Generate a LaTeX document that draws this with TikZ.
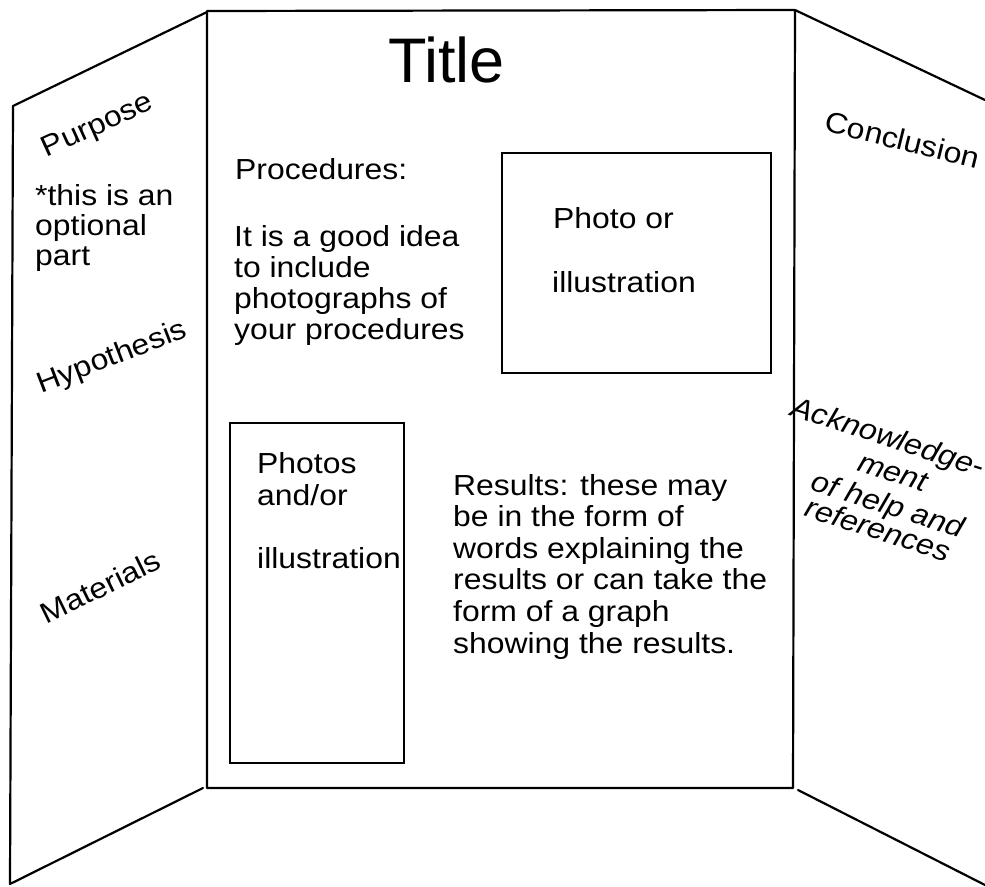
\documentclass[tikz,border=0pt]{standalone}
\usepackage{fontspec}
\setmainfont{Liberation Sans}
\newfontfamily\bodyfont{Liberation Sans}[FakeStretch=1.1]
\newfontfamily\titlefont{Liberation Sans}
\begin{document}
\begin{tikzpicture}[x=1pt,y=-1pt,
  panel/.style={line width=2.2pt, line join=round, line cap=round},
  frame/.style={line width=2pt, line join=miter},
  txt/.style={anchor=base west, inner sep=0pt, font=\bodyfont\fontsize{29}{31}\selectfont},
  rtxt/.style={anchor=base, inner sep=0pt, font=\bodyfont\fontsize{29}{31}\selectfont},
  ack/.style={rtxt, font=\bodyfont\itshape\fontsize{29}{31}\selectfont, rotate=-18}]
\useasboundingbox (0,0) rectangle (985,886);
% board panels
\draw[panel] (207,12) -- (13,106) -- (10,884) -- (203,788);
\draw[panel] (207,11) -- (795,10) -- (793,788) -- (207,788) -- cycle;
\draw[panel] (795,10) -- (985,100);
\draw[panel] (798,790) -- (985,885);
% picture boxes
\draw[frame] (502,153) rectangle (771,373);
\draw[frame] (230,423) rectangle (404,763);
% title
\node[anchor=base west, inner sep=0pt, font=\titlefont\fontsize{63}{70}\selectfont] (title) at (388,82) {Title};
% left panel
\node[rtxt, rotate=24.5] (purpose) at (101,133) {Purpose};
\node[txt] (opt1) at (35,205) {*this is an};
\node[txt] (opt2) at (35,235) {optional};
\node[txt] (opt3) at (35,265) {part};
\node[rtxt, rotate=21] (hypo) at (115,365) {Hypothesis};
\node[rtxt, rotate=26] (mat) at (105,596) {Materials};
% right panel
\node[rtxt, rotate=-14] (concl) at (900,150) {Conclusion};
\node[ack] (ack1) at (885,446) {Acknowledge-};
\node[ack] (ack2) at (890,481) {ment};
\node[ack] (ack3) at (885,514) {of help and};
\node[ack] (ack4) at (875,539) {references};
% centre
\node[txt] (proc) at (235,179) {Procedures:};
\node[txt] (p1) at (234,246) {It is a good idea};
\node[txt] (p2) at (234,277) {to include};
\node[txt] (p3) at (234,308) {photographs of};
\node[txt] (p4) at (234,339) {your procedures};
\node[txt] (ph1) at (553,228) {Photo or};
\node[txt] (ph2) at (552,292) {illustration};
\node[txt] (ps1) at (257,473) {Photos};
\node[txt] (ps2) at (257,505) {and/or};
\node[txt] (ps3) at (257,568) {illustration};
\node[txt] (r1) at (453,495) {Results: these may};
\node[txt] (r2) at (453,526.6) {be in the form of};
\node[txt] (r3) at (453,558.2) {words explaining the};
\node[txt] (r4) at (453,589.8) {results or can take the};
\node[txt] (r5) at (453,621.4) {form of a graph};
\node[txt] (r6) at (453,653) {showing the results.};
\end{tikzpicture}
\end{document}
